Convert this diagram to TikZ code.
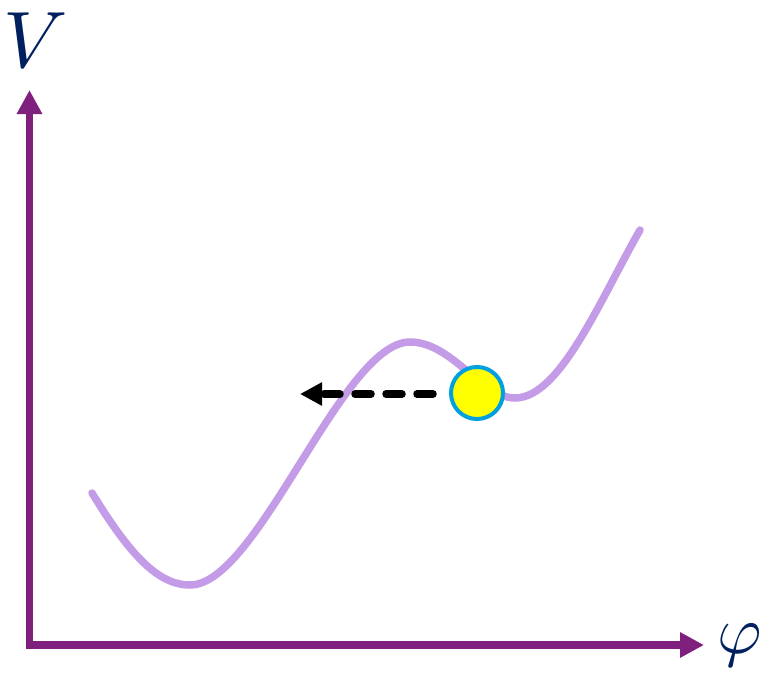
\documentclass[tikz,border=0pt]{standalone}
\usetikzlibrary{arrows.meta}
\definecolor{axispurple}{RGB}{127,32,127}
\definecolor{curvelav}{RGB}{196,155,230}
\definecolor{labelnavy}{RGB}{0,32,96}
\definecolor{ballcyan}{RGB}{0,160,224}
\definecolor{ballyellow}{RGB}{255,255,0}
\tikzset{
  axisline/.style={draw=axispurple, line width=7.5pt,
    arrows={Triangle[length=24pt,width=24pt]-Triangle[length=24pt,width=24pt]}},
  potcurve/.style={draw=curvelav, line width=7.5pt, line cap=round},
  ballnode/.style={circle, draw=ballcyan, fill=ballyellow, line width=4pt, minimum size=52pt, inner sep=0pt},
  pusharrow/.style={draw=black, line width=7.5pt, line cap=round, dash pattern=on 16pt off 15pt,
    -{Triangle[length=22pt,width=22pt]}},
  axislabel/.style={text=labelnavy, inner sep=0pt}
}
\begin{document}
\begin{tikzpicture}[x=1pt,y=-1pt]
\useasboundingbox (0,0) rectangle (766,680);
% axes
\coordinate (ytip) at (29.5,90);
\coordinate (origin) at (29.5,645);
\coordinate (xtip) at (704,645);
\draw[axisline] (ytip) -- (origin) -- (xtip);
% labels
\node[axislabel, scale=8] (vlabel) at (36,40) {$V$};
\node[axislabel, anchor=west, scale=6.8] (philabel) at (716,645) {$\varphi$};
% potential curve
\draw[potcurve] (92,493) .. controls (130,555) and (158,585) .. (190,585)
  .. controls (258,585) and (342,342) .. (410,342)
  .. controls (452,342) and (482,398) .. (515,398)
  .. controls (560,398) and (600,300) .. (640,230);
% push arrow
\coordinate (dashstart) at (433,394);
\coordinate (dashtip) at (300,394);
\draw[pusharrow] (dashstart) -- (dashtip);
% ball
\node[ballnode] (ball) at (477,393) {};
\end{tikzpicture}
\end{document}
